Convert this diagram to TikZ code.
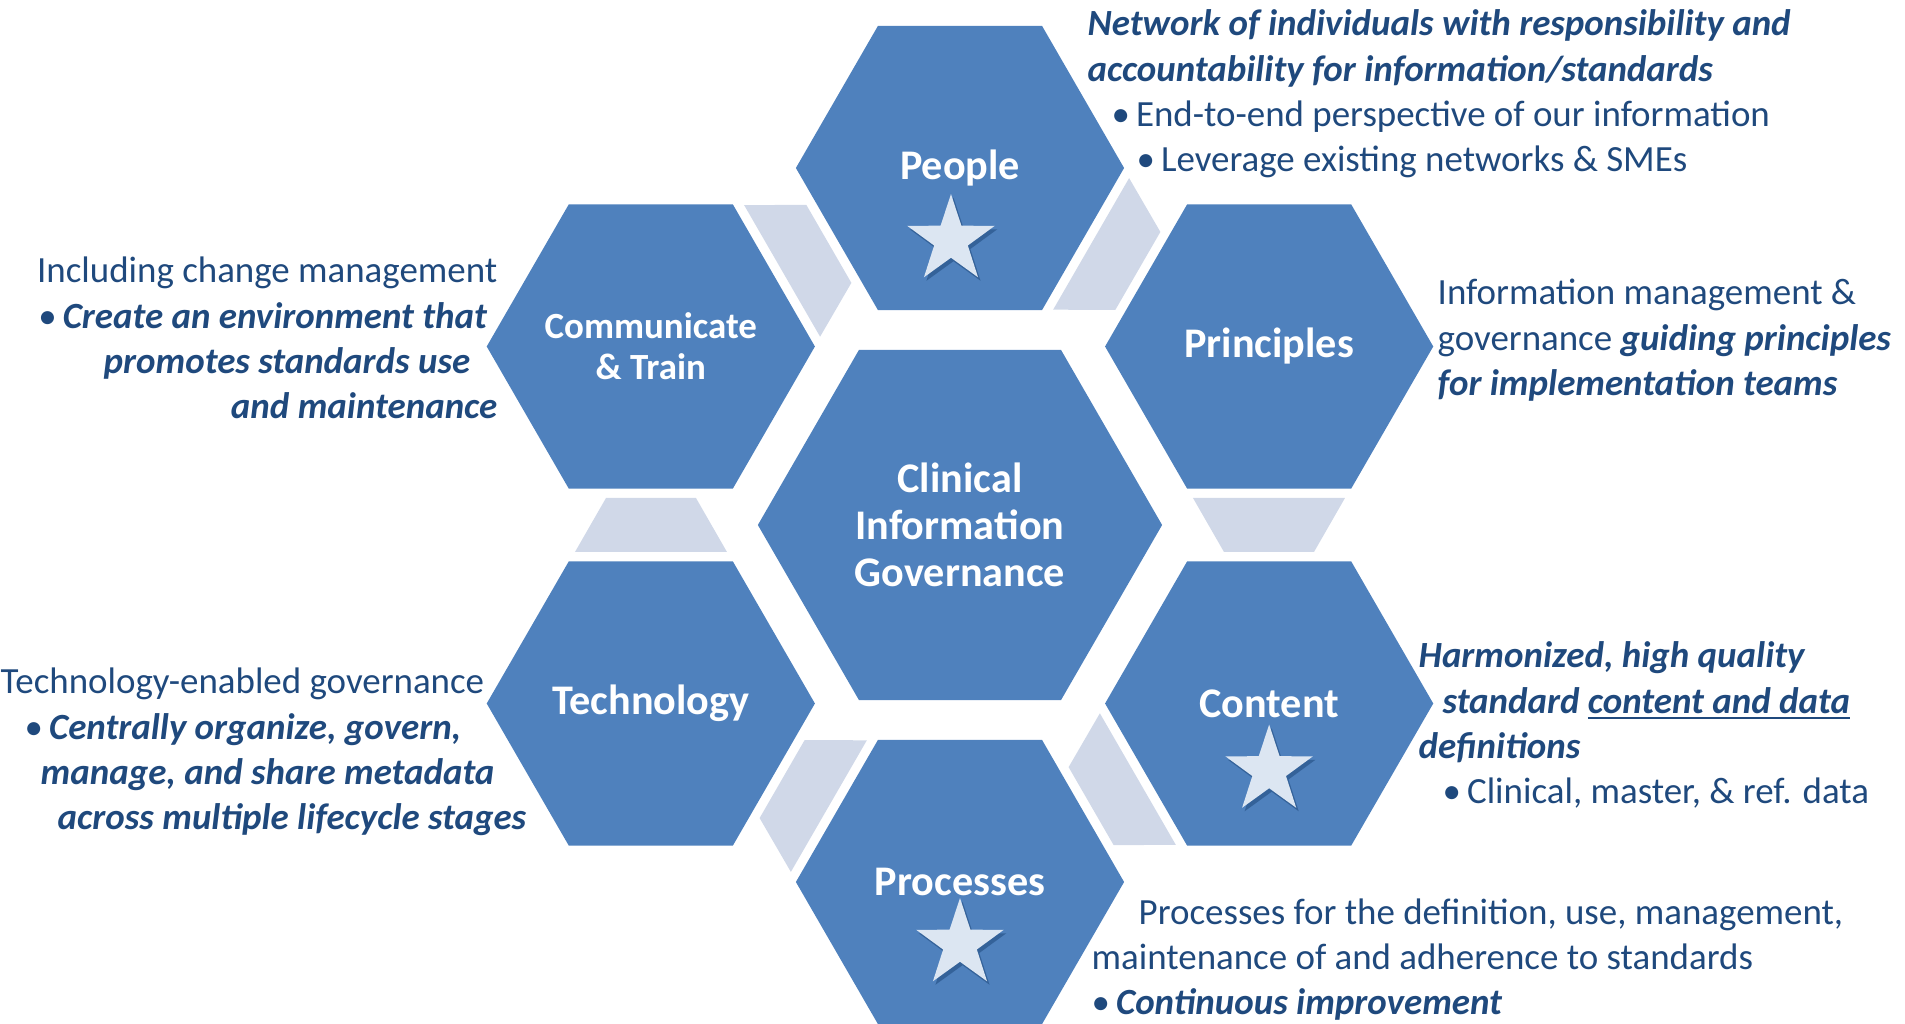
\documentclass[tikz,border=0pt]{standalone}
\usepackage{fontspec}
\setmainfont{Carlito}
\usepackage{tikz}
\usetikzlibrary{shapes.geometric,shadows,positioning}

\definecolor{hexblue}{HTML}{4F81BD}
\definecolor{gapblue}{HTML}{D0D8E8}
\definecolor{txtblue}{HTML}{1F497D}
\definecolor{starfill}{HTML}{DCE6F2}

\newcommand{\bpt}{•\hspace{0.06cm}}
\newcommand{\bfit}[1]{\textbf{\textit{#1}}}

\tikzset{
  hexa/.style={regular polygon, regular polygon sides=6, minimum size=3.28cm,
    inner sep=0pt, fill=hexblue, text=white, align=center,
    font=\fontsize{12}{13.4}\selectfont\bfseries},
  hexcore/.style={hexa, minimum size=4.04cm},
  hexlabel/.style={text=white, align=center, inner sep=0pt,
    font=\fontsize{10.5}{11.7}\selectfont\bfseries},
  gapfill/.style={fill=gapblue},
  starmark/.style={star, star points=5, star point ratio=2.6, minimum size=0.92cm,
    inner sep=0pt, fill=starfill,
    drop shadow={shadow xshift=0.025cm, shadow yshift=-0.035cm, opacity=0.55, fill=txtblue}},
  blurb/.style={text=txtblue, inner sep=0pt, font=\fontsize{10.5}{12.8}\selectfont},
}

\begin{document}
\begin{tikzpicture}[x=0.01cm,y=0.01cm]
    \useasboundingbox (-960,-499) rectangle (945,525);

    % light pieces between the outer hexagons
    \foreach \a in {0,60,...,300}
        \fill[gapfill, rotate=\a] (-354,27) -- (-264,27) -- (-233,-27) -- (-385,-27) -- cycle;

    % Hexagons
    \node[hexcore] (core) at (0,0) {Clinical\\Information\\Governance};
    \node[hexa] (people) at (90:357) {People};
    \node[hexa] (comm) at (150:357) {};
    \node[hexlabel] (commlbl) at (comm.center) {Communicate\\\& Train};
    \node[hexa] (techno) at (210:357) {Technology};
    \node[hexa] (proc) at (270:357) {Processes};
    \node[hexa] (content) at (330:357) {Content};
    \node[hexa] (princ) at (30:357) {Principles};

    % Stars
    \node[starmark] (peoplestar) at ([xshift=-0.09cm,yshift=-0.72cm]people.center) {};
    \node[starmark] (contentstar) at ([yshift=-0.67cm]content.center) {};
    \node[starmark] (procstar) at ([yshift=-0.62cm]proc.center) {};

    % People
    \node[blurb, anchor=base west] (peopletxt) at (127,489) {\begin{tabular}[t]{@{}l@{}}
        \bfit{Network of individuals with responsibility and}\\
        \bfit{accountability for information/standards}\\
        \hspace*{0.24cm}\bpt End-to-end perspective of our information\\
        \hspace*{0.49cm}\bpt Leverage existing networks \& SMEs
    \end{tabular}};

    % Communicate & Train
    \node[blurb, anchor=base east] (commtxt) at (-462,242) {\begin{tabular}[t]{@{}r@{}}
        Including change management\\
        \bpt\bfit{Create an environment that}\hspace*{0.1cm}\\
        \bfit{promotes standards use}\hspace*{0.27cm}\\
        \bfit{and maintenance}
    \end{tabular}};

    % Principles
    \node[blurb, anchor=base west] (princtxt) at (477,220) {\begin{tabular}[t]{@{}l@{}}
        Information management \&\\
        governance \bfit{guiding principles}\\
        \bfit{for implementation teams}
    \end{tabular}};

    % Technology
    \node[blurb, anchor=base west] (technotxt) at (-960,-169) {\begin{tabular}[t]{@{}l@{}}
        Technology-enabled governance\\
        \hspace*{0.24cm}\bpt\bfit{Centrally organize, govern,}\\
        \hspace*{0.40cm}\bfit{manage, and share metadata}\\
        \hspace*{0.57cm}\bfit{across multiple lifecycle stages}
    \end{tabular}};

    % Content
    \node[blurb, anchor=base west] (contenttxt) at (458,-143) {\begin{tabular}[t]{@{}l@{}}
        \bfit{Harmonized, high quality}\\
        \hspace*{0.24cm}\bfit{standard \underline{content and data}}\\
        \bfit{definitions}\\
        \hspace*{0.24cm}\bpt Clinical, master, \& ref. data
    \end{tabular}};

    % Processes
    \node[blurb, anchor=base west] (proctxt) at (131,-399) {\begin{tabular}[t]{@{}l@{}}
        \hspace*{0.47cm}Processes for the definition, use, management,\\
        maintenance of and adherence to standards\\
        \bpt\bfit{Continuous improvement}
    \end{tabular}};
\end{tikzpicture}
\end{document}
